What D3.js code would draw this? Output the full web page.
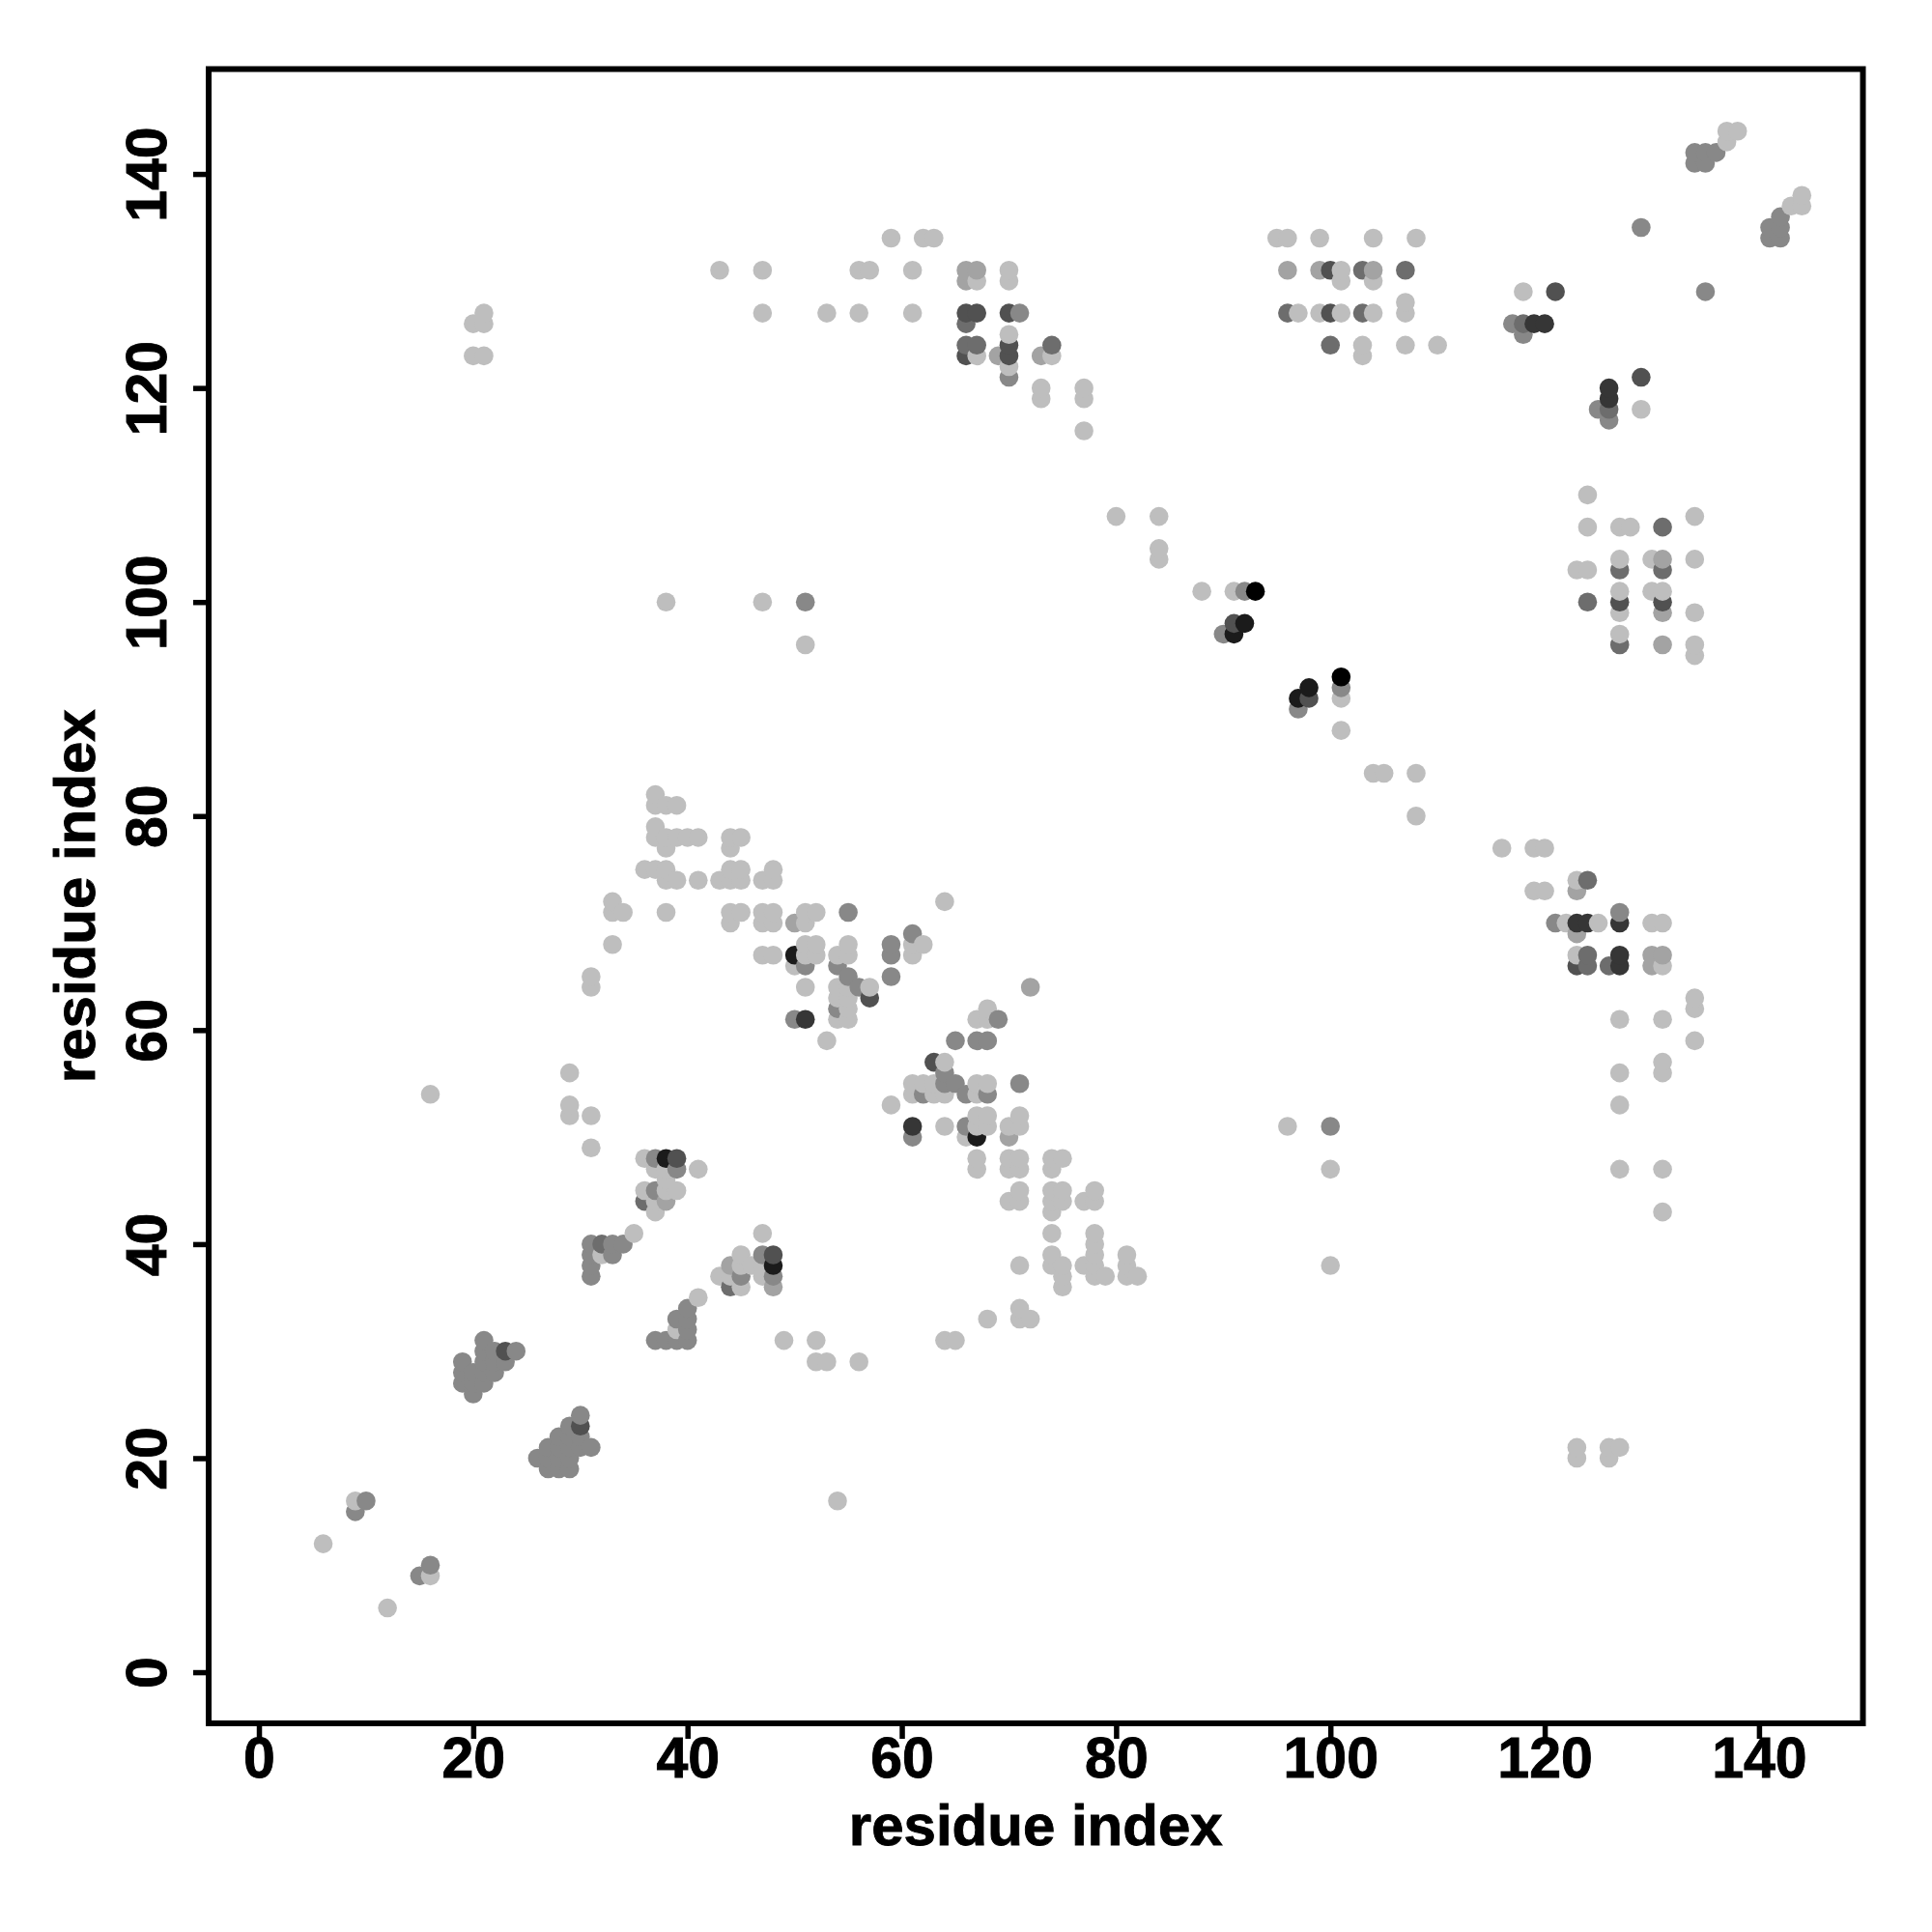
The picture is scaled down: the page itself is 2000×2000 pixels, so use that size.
<!DOCTYPE html>
<html><head><meta charset="utf-8">
<script src="https://cdn.jsdelivr.net/npm/d3@7"></script>
<style>html,body{margin:0;padding:0;background:#fff}svg{display:block}
text{font-family:"Liberation Sans",Arial,sans-serif;font-weight:700;fill:#000;stroke:#000;stroke-width:0.9px}</style>
</head><body><svg id="c" width="2000" height="2000"></svg>
<script>
const tickValues=[0,20,40,60,80,100,120,140];
const axisTitle="residue index";
// contacts [residue i, residue j], grouped by contact strength level (1 weakest .. 8 strongest)
const level1=[[6,12],[9,16],[12,6],[16,9],[16,54],[20,123],[20,126],[21,123],[21,126],[21,127],[29,52],[29,53],[29,56],[31,49],[31,52],[31,64],[31,65],[32,39],[33,68],[33,71],[33,72],[34,71],[35,41],[36,45],[36,48],[36,75],[37,43],[37,44],[37,47],[37,75],[37,78],[37,79],[37,81],[37,82],[38,45],[38,46],[38,47],[38,71],[38,74],[38,75],[38,77],[38,78],[38,81],[38,100],[39,32],[39,45],[39,74],[39,78],[39,81],[40,78],[41,35],[41,47],[41,74],[41,78],[43,37],[43,74],[43,131],[44,37],[44,70],[44,71],[44,74],[44,75],[44,77],[44,78],[45,36],[45,38],[45,39],[45,71],[45,74],[45,75],[45,78],[46,38],[47,37],[47,38],[47,41],[47,67],[47,70],[47,71],[47,74],[47,100],[47,127],[47,131],[48,67],[48,70],[48,71],[48,74],[48,75],[49,31],[50,66],[51,64],[51,67],[51,68],[51,70],[51,71],[51,96],[52,29],[52,31],[52,67],[52,68],[52,71],[53,29],[53,59],[53,127],[54,16],[54,61],[54,63],[54,64],[54,67],[55,61],[55,62],[55,63],[55,64],[55,67],[55,68],[56,29],[56,127],[56,131],[57,64],[57,131],[59,53],[59,134],[61,54],[61,55],[61,67],[61,68],[61,127],[61,131],[62,55],[62,68],[62,134],[63,54],[63,55],[63,134],[64,31],[64,51],[64,54],[64,57],[64,72],[65,31],[66,50],[67,47],[67,48],[67,51],[67,52],[67,54],[67,55],[67,61],[67,123],[67,130],[68,33],[68,51],[68,52],[68,55],[68,61],[68,62],[70,44],[70,47],[70,48],[70,51],[70,122],[70,125],[70,130],[70,131],[71,33],[71,34],[71,38],[71,44],[71,45],[71,47],[71,48],[71,51],[71,52],[72,33],[73,119],[73,120],[74,38],[74,39],[74,41],[74,43],[74,44],[74,45],[74,47],[74,48],[74,123],[75,36],[75,37],[75,38],[75,44],[75,45],[75,48],[77,38],[77,44],[77,116],[77,119],[77,120],[78,37],[78,38],[78,39],[78,40],[78,41],[78,44],[78,45],[79,37],[80,108],[81,37],[81,38],[81,39],[82,37],[84,104],[84,105],[84,108],[88,101],[91,101],[95,134],[96,51],[96,134],[97,127],[99,127],[99,134],[100,38],[100,47],[101,88],[101,91],[101,127],[101,130],[101,131],[103,123],[103,124],[104,84],[104,127],[104,130],[104,134],[105,84],[107,124],[107,127],[107,128],[108,80],[108,84],[108,134],[110,124],[116,77],[118,129],[119,73],[119,77],[120,73],[120,77],[122,70],[123,20],[123,21],[123,67],[123,74],[123,103],[124,103],[124,107],[124,110],[125,70],[126,20],[126,21],[127,21],[127,47],[127,53],[127,56],[127,61],[127,97],[127,99],[127,101],[127,104],[127,107],[128,107],[129,118],[130,70],[130,101],[130,104],[131,43],[131,47],[131,56],[131,57],[131,61],[131,66],[131,70],[131,101],[134,59],[134,62],[134,63],[134,95],[134,96],[134,99],[134,104],[134,108],[137,143],[137,144],[138,144],[143,137],[144,137],[144,138]];
const level2=[[38,44],[44,38],[48,36],[50,70],[66,130],[66,131],[67,131],[69,123],[70,50],[72,64],[73,123],[96,131],[99,131],[104,131],[123,69],[123,73],[130,66],[130,67],[131,67],[131,96],[131,99],[131,104]];
const level3=[[9,15],[10,16],[15,9],[16,10],[19,27],[19,28],[19,29],[20,26],[20,27],[20,28],[21,27],[21,28],[21,29],[21,30],[21,31],[22,28],[22,29],[22,30],[23,29],[24,30],[26,20],[27,19],[27,20],[27,21],[28,19],[28,20],[28,21],[28,22],[29,19],[29,20],[29,21],[29,22],[29,23],[30,21],[30,22],[30,24],[31,21],[31,37],[31,38],[31,39],[31,40],[33,39],[33,40],[34,40],[37,31],[37,45],[37,48],[38,31],[39,31],[39,33],[39,47],[40,31],[40,32],[40,33],[40,34],[45,37],[47,39],[48,37],[50,61],[51,66],[51,100],[54,66],[54,62],[55,65],[55,71],[56,64],[59,65],[59,67],[59,68],[61,50],[61,69],[62,54],[64,55],[64,56],[65,55],[65,59],[66,51],[66,54],[67,59],[68,54],[68,59],[69,61],[70,121],[71,55],[71,127],[90,97],[92,101],[97,90],[100,51],[101,92],[117,126],[118,125],[121,70],[125,118],[126,117],[127,71],[129,135],[135,129],[134,141],[134,142],[135,141],[135,142],[136,142],[141,134],[141,135],[142,134],[142,135],[142,136]];
const level4=[[32,40],[36,44],[44,36],[66,124],[67,124],[66,126],[74,124],[96,127],[100,124],[103,127],[103,131],[107,131],[118,126],[124,66],[124,67],[124,74],[124,100],[126,66],[126,118],[127,96],[127,103],[131,103],[131,107]];
const level5=[[23,30],[30,23],[39,48],[48,39],[63,57],[57,63],[66,123],[66,127],[67,127],[70,123],[70,124],[70,127],[91,98],[98,91],[100,127],[100,131],[121,129],[123,66],[127,100],[129,121],[131,100]];
const level6=[[51,61],[61,51],[119,126],[120,126],[123,70],[124,70],[126,119],[126,120],[127,66],[127,67],[127,70]];
const level7=[[38,48],[48,38],[50,67],[67,50],[91,97],[92,98],[97,91],[98,92]];
const level8=[[93,101],[101,93]];
const levels=[level1,level2,level3,level4,level5,level6,level7,level8];

const contacts=levels.flatMap((pts,i)=>pts.map(p=>({x:p[0],y:p[1],level:i+1})))
  .sort((a,b)=>d3.ascending(a.x,b.x)||d3.ascending(a.y,b.y)||d3.ascending(a.level,b.level));

const L=216,R=1928.5,T=71.5,B=1784;
const x=d3.scaleLinear().domain([-4.69,149.7]).range([L,R]);
const y=d3.scaleLinear().domain([-4.78,149.8]).range([B,T]);
const gray=d3.scaleLinear().domain([1,8]).range(["#bebebe","#000000"]);
const svg=d3.select("#c");
svg.append("rect").attr("width",2000).attr("height",2000).attr("fill","#fff");

svg.append("g").selectAll("circle").data(contacts).join("circle")
  .attr("cx",d=>x(d.x)).attr("cy",d=>y(d.y)).attr("r",9.8).attr("fill",d=>gray(d.level));

const FS=59;
const gx=svg.append("g").attr("transform",`translate(0,${B})`)
  .call(d3.axisBottom(x).tickValues(tickValues).tickSize(16).tickSizeOuter(0).tickFormat(d3.format("d")));
const gy=svg.append("g").attr("transform",`translate(${L},0)`)
  .call(d3.axisLeft(y).tickValues(tickValues).tickSize(16).tickSizeOuter(0).tickFormat(d3.format("d")));
gx.select(".domain").remove(); gy.select(".domain").remove();
gx.selectAll("line").attr("stroke","#000").attr("stroke-width",5.5);
gy.selectAll("line").attr("stroke","#000").attr("stroke-width",5.5);
gx.selectAll("text").attr("y",56).attr("dy",0).attr("font-size",FS).attr("text-anchor","middle").style("font-family",'"Liberation Sans"').style("font-weight",700);
gy.selectAll("text").attr("x",0).attr("dy",0).attr("font-size",FS).attr("text-anchor","middle")
  .style("font-family",'"Liberation Sans"').style("font-weight",700)
  .attr("transform",`translate(${172-L},0) rotate(-90)`);

svg.append("rect").attr("x",L).attr("y",T).attr("width",R-L).attr("height",B-T)
  .attr("fill","none").attr("stroke","#000").attr("stroke-width",6);

svg.append("text").attr("x",(L+R)/2).attr("y",1910).attr("text-anchor","middle").attr("font-size",60).text(axisTitle);
svg.append("text").attr("transform",`translate(98,${(T+B)/2}) rotate(-90)`).attr("text-anchor","middle").attr("font-size",60).text(axisTitle);
</script></body></html>
